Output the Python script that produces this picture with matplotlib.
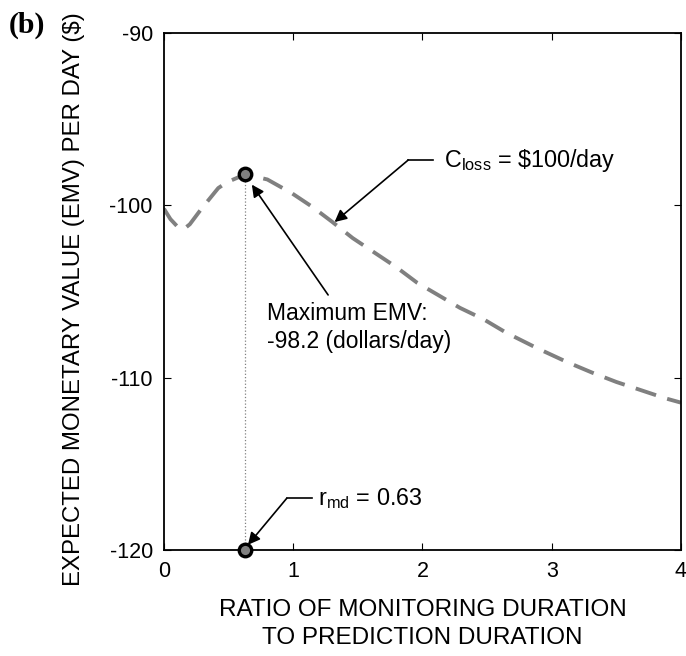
#!/usr/bin/env python

#IMPORTS---------------------------------------
from matplotlib import pyplot as plt
import numpy as np
#----------------------------------------------

#DATA -----------------------------------------
ratio = [0.0, 0.05, 0.10, 0.15, 0.20, 0.29, 0.42, 0.49, 0.63, 0.80, 0.99,
         1.15, 1.30, 1.46, 1.62, 1.80, 1.96, 2.12, 2.29, 2.47, 2.65, 2.89,
         3.12, 3.31, 3.50, 3.68, 3.88, 4.0]
emv = [-100.2, -100.8, -101.2, -101.4, -101.1, -100.2, -99.0, -98.65, -98.2,
       -98.5, -99.3, -100.1, -100.95, -101.9, -102.7, -103.6, -104.5, -105.2,
       -105.95, -106.6, -107.4, -108.3, -109.1, -109.7, -110.25, -110.7,
       -111.2, -111.45]

r_md = 0.63
emv_max = -98.2

xticks = [0, 1, 2, 3, 4]
yticks = [-120, -110, -100, -90]
#----------------------------------------------

#STYLE-----------------------------------------
plt.rcParams['font.family'] = ['Liberation Sans', 'DejaVu Sans']
plt.rcParams['axes.unicode_minus'] = False
gray = '#808080'
#----------------------------------------------

fig = plt.figure(figsize=(6.86, 6.56), dpi=100)
ax = fig.add_axes([0.239, 0.1616, 0.7537, 0.7881])

ax.plot(ratio, emv, color=gray, lw=2.8, dashes=(5.5, 3), zorder=2)
ax.plot([r_md, r_md], [-120, emv_max], color=gray, lw=0.9, ls=':', zorder=1)
ax.plot([r_md, r_md], [emv_max, -120], 'o', ms=9, mfc=gray, mec='k', mew=2.4,
        clip_on=False, zorder=5)

ax.set_xlim(0, 4)
ax.set_ylim(-120, -90)
ax.set_xticks(xticks)
ax.set_yticks(yticks)
ax.tick_params(direction='in', length=5, width=0.8, top=True, right=True,
               labelsize=15.5, pad=8)
for s in ax.spines.values():
  s.set_linewidth(1.3)

ax.set_xlabel('RATIO OF MONITORING DURATION\nTO PREDICTION DURATION',
              fontsize=17.5, linespacing=1.35, labelpad=12)
ax.set_ylabel('EXPECTED MONETARY VALUE (EMV) PER DAY ($)', fontsize=17.3)
ax.yaxis.set_label_coords(-0.152, 0.486)

#ANNOTATIONS-----------------------------------
arrow = dict(arrowstyle='-|>', color='k', lw=1.2, mutation_scale=18,
             shrinkA=0, shrinkB=0)

# C_loss label with elbow leader
ax.plot([1.89, 2.08], [-97.37, -97.37], color='k', lw=1.2)
ax.annotate('', xy=(1.32, -100.97), xytext=(1.89, -97.37), arrowprops=arrow)
ax.text(2.17, -97.37, r'C$_{\mathregular{loss}}$ = \$100/day', fontsize=16.8,
        va='center', ha='left')

# maximum EMV
ax.annotate('', xy=(0.68, -98.8), xytext=(1.27, -105.2), arrowprops=arrow)
ax.text(0.80, -107.1, 'Maximum EMV:\n-98.2 (dollars/day)', fontsize=16.5,
        va='center', ha='left', linespacing=1.3)

# r_md label with elbow leader
ax.plot([0.95, 1.145], [-117.0, -117.0], color='k', lw=1.2)
ax.annotate('', xy=(0.65, -119.7), xytext=(0.95, -117.0), arrowprops=arrow)
ax.text(1.19, -117.0, r'r$_{\mathregular{md}}$ = 0.63', fontsize=16.8,
        va='center', ha='left')

fig.text(0.04, 0.962, '(b)', fontsize=21.5, fontweight='bold',
         family='Liberation Serif', va='center', ha='center')
#----------------------------------------------

fig.savefig('out.png', dpi=100)
